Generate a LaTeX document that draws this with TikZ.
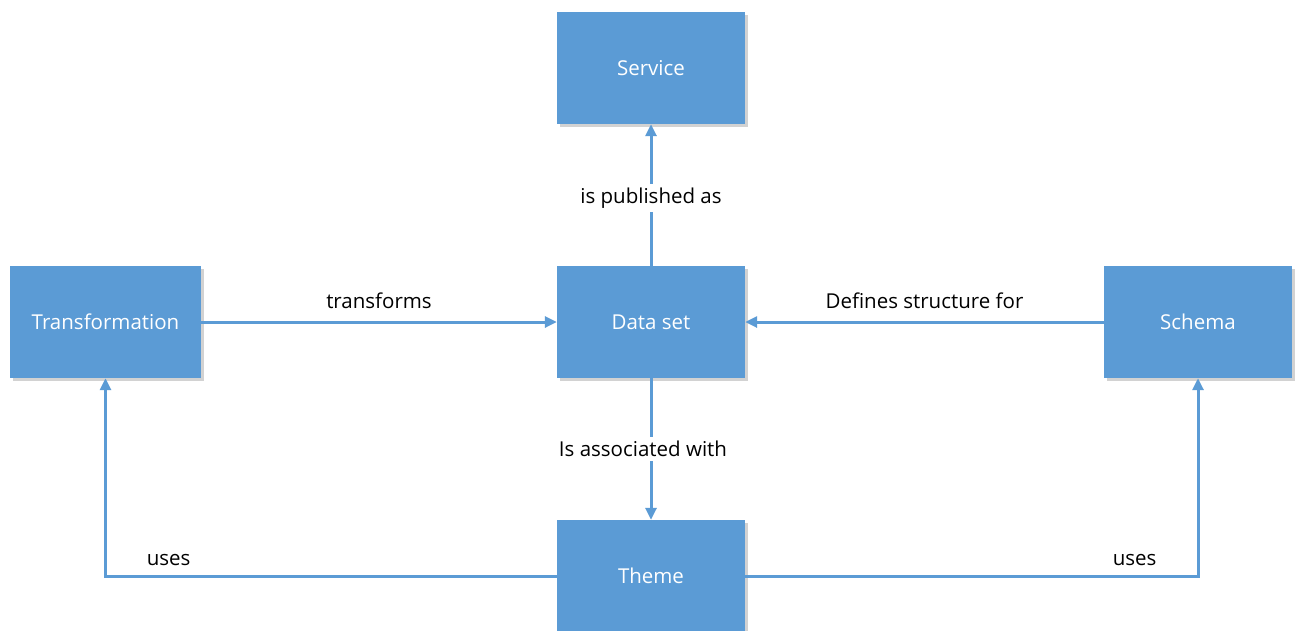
\documentclass[tikz,border=0pt]{standalone}
\usepackage{fontspec}
\setmainfont{Open Sans}
\usetikzlibrary{arrows.meta,shadows}
\definecolor{boxblue}{HTML}{5B9BD5}
\tikzset{
  box/.style={rectangle, fill=boxblue, minimum width=188pt, minimum height=112pt, inner sep=0pt,
    text=white, font=\fontsize{20.5}{24}\selectfont,
    drop shadow={shadow xshift=3pt, shadow yshift=-3pt, fill=black!35, opacity=0.5}},
  conn/.style={draw=boxblue, line width=3pt, -{Triangle[length=12pt,width=11pt]}},
  lbl/.style={font=\fontsize{20.5}{24}\selectfont, text=black, inner sep=2pt},
  lblw/.style={lbl, fill=white, inner sep=4pt}
}
\begin{document}
\begin{tikzpicture}[x=1pt,y=-1pt]
\useasboundingbox[fill=white] (0,0) rectangle (1296,630);
\node[box] (service) at (651,68) {Service};
\node[box] (data) at (651,322) {Data set};
\node[box, minimum width=191pt] (trans) at (105.5,322) {Transformation};
\node[box] (schema) at (1198,322) {Schema};
\node[box] (theme) at (651,576) {Theme};
\coordinate (cl) at (trans.south |- theme.west);
\coordinate (cr) at (schema.south |- theme.east);
\draw[conn] (data.north) -- node[lblw, pos=0.48] {is published as} (service.south);
\draw[conn] (trans.east) -- node[lbl, above=10pt, pos=0.5] {transforms} (data.west);
\draw[conn] (schema.west) -- node[lbl, above=10pt, pos=0.5] {Defines structure for} (data.east);
\draw[conn] (data.south) -- node[lblw, xshift=-8pt, pos=0.5] {Is associated with} (theme.north);
\draw[conn] (theme.west) -- node[lbl, above=7pt, pos=0.86] {uses} (cl) -- (trans.south);
\draw[conn] (theme.east) -- node[lbl, above=7pt, pos=0.86] {uses} (cr) -- (schema.south);
\end{tikzpicture}
\end{document}
